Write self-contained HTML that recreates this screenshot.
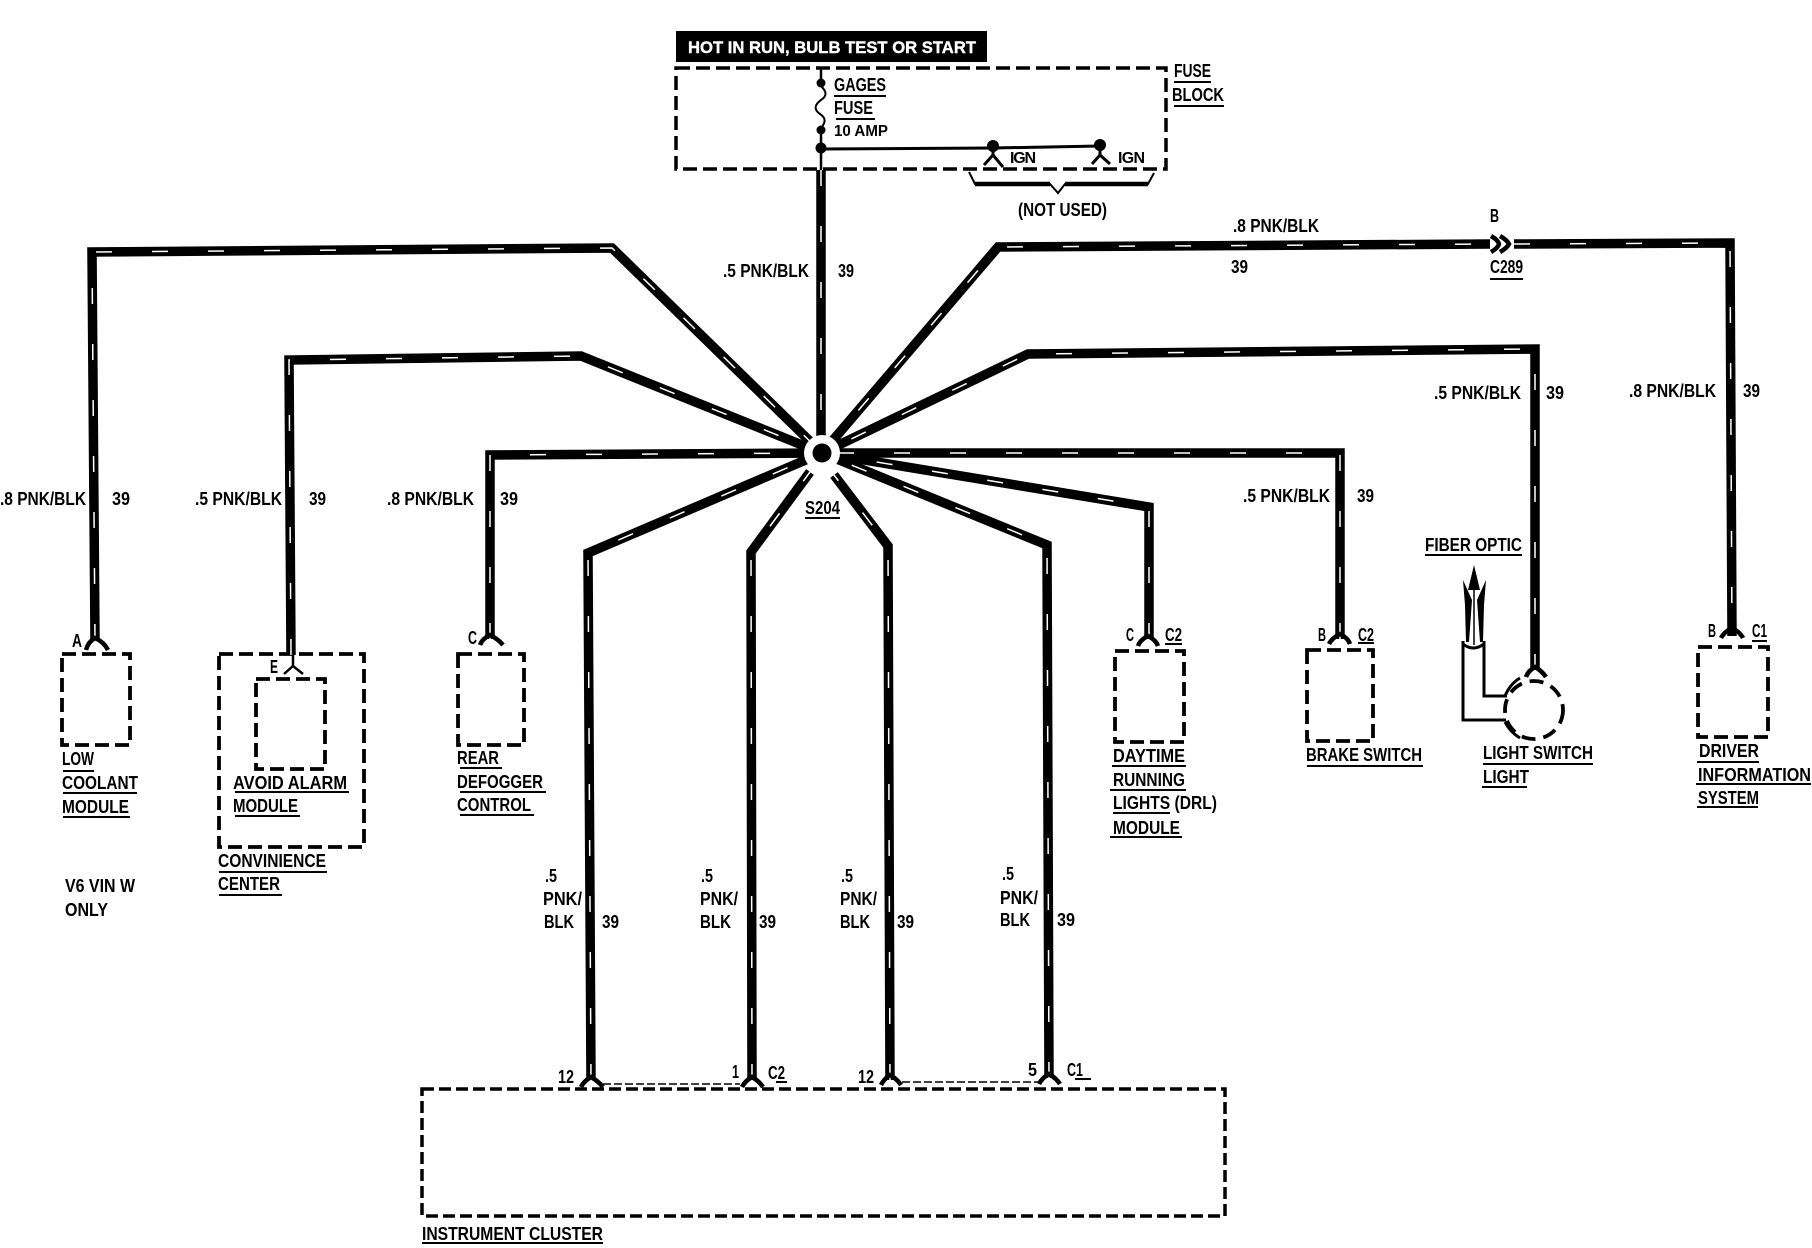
<!DOCTYPE html>
<html>
<head>
<meta charset="utf-8">
<style>
html,body{margin:0;padding:0;background:#fff;width:1812px;height:1248px;overflow:hidden}
svg{display:block}
text{font-family:"Liberation Sans",sans-serif;font-weight:700;font-size:18px;fill:#000}
.s{font-size:16px}
</style>
</head>
<body>
<svg width="1812" height="1248" viewBox="0 0 1812 1248" xmlns="http://www.w3.org/2000/svg">
<defs>
<g id="wires" fill="none">
<path d="M95,640 L92,252 L612,248 L822,453"/>
<path d="M291,655 L289,360 L581,356 L822,453"/>
<path d="M490,639 L490,455 L822,453"/>
<path d="M591,1080 L588,553 L822,453"/>
<path d="M752,1080 L751,552 L810,472"/>
<path d="M890,1080 L888,546 L834,475"/>
<path d="M1049,1078 L1047,545 L822,453"/>
<path d="M1149,639 L1149,507 L822,453"/>
<path d="M1340,639 L1340,453 L822,453"/>
<path d="M1535,670 L1535,349 L1028,354 L822,453"/>
<path d="M822,453 L998,247 L1490,244"/>
<path d="M1514,244 L1730,243 L1732,636"/>
<path d="M821,170 L821,453"/>
</g>
</defs>
<rect width="1812" height="1248" fill="#fff"/>

<!-- header -->
<rect x="676" y="31" width="311" height="31" fill="#000"/>
<text x="688" y="53" textLength="288" lengthAdjust="spacingAndGlyphs" style="fill:#fff;font-size:17px;stroke:#fff;stroke-width:.4">HOT IN RUN, BULB TEST OR START</text>

<!-- dashed boxes -->
<g fill="none" stroke="#000" stroke-width="3.8" stroke-dasharray="14 6">
<rect x="676" y="68" width="490" height="101" stroke-width="3.5"/>
<rect x="62" y="654" width="68" height="91"/>
<rect x="219" y="654" width="145" height="193"/>
<rect x="256" y="679" width="69" height="90"/>
<rect x="458" y="654" width="66" height="91"/>
<rect x="1115" y="651" width="69" height="91"/>
<rect x="1307" y="650" width="66" height="91"/>
<rect x="1698" y="647" width="70" height="90"/>
<rect x="422" y="1089" width="803" height="127" stroke-width="3.5" stroke-dasharray="12 5"/>
<circle cx="1534" cy="710" r="29" stroke-dasharray="14 8"/>
</g>

<!-- wires -->
<use href="#wires" stroke="#000" stroke-width="9.5"/>
<use href="#wires" stroke="#fff" stroke-width="1.5" stroke-dasharray="16 40"/>

<!-- splice -->
<circle cx="822" cy="453" r="18" fill="#fff"/>
<circle cx="822" cy="453" r="9.5" fill="#000"/>

<!-- fuse block internals -->
<path d="M821,68 V83 M821,130 V170" stroke="#000" stroke-width="2.5"/>
<path d="M821,86 C827,92 827,96 821,100 C814,105 814,110 820,114 C826,118 826,122 821,128" fill="none" stroke="#000" stroke-width="2"/>
<g fill="#000">
<circle cx="821" cy="83" r="4.5"/>
<circle cx="821" cy="130" r="4.5"/>
<circle cx="821" cy="148" r="5.5"/>
<circle cx="993" cy="146" r="6"/>
<circle cx="1100" cy="145" r="6"/>
</g>
<g fill="none" stroke="#000" stroke-width="3">
<path d="M821,149 L993,148 L1100,146"/>
<path d="M993,150 V157 M984,165 L993,155 L1003,167"/>
<path d="M1100,150 V156 M1092,164 L1100,155 L1110,164"/>
</g>
<path d="M969,172 L975,184 H1050 L1058,193 L1065,184 H1148 L1154,173" fill="none" stroke="#000" stroke-width="2"/>
<path d="M975,184 H1050 M1065,184 H1148" stroke="#000" stroke-width="4.5"/>

<!-- C289 connector -->
<g fill="none" stroke="#000" stroke-width="4.5">
<path d="M1491,236 Q1498,240 1499,244 Q1498,248 1491,252"/>
<path d="M1500,236 Q1507,240 1509,244 Q1507,248 1500,252"/>
</g>

<!-- wire-end forks -->
<g fill="none" stroke="#000" stroke-width="4.5">
<path d="M86,650 Q88,642 95,638 Q104,642 108,650"/>
<path d="M480,645 Q482,639 490,635 Q498,639 503,645"/>
<path d="M1138,646 Q1140,640 1148,636 Q1156,640 1158,646"/>
<path d="M1329,644 Q1332,638 1340,634 Q1348,638 1350,644"/>
<path d="M1721,638 Q1724,632 1732,628 Q1740,632 1743,638"/>
<path d="M1526,677 Q1528,671 1535,667 Q1542,671 1546,677"/>
<path d="M581,1087 Q584,1081 591,1077 Q598,1081 603,1087"/>
<path d="M742,1087 Q745,1081 752,1077 Q759,1081 763,1087"/>
<path d="M881,1085 Q884,1079 890,1075 Q897,1079 901,1085"/>
<path d="M1039,1084 Q1042,1078 1049,1074 Q1056,1078 1060,1084"/>
</g>
<path d="M293,655 V667 M284,674 L293,666 L303,674" fill="none" stroke="#000" stroke-width="2.5"/>

<!-- thin dashes between cluster pins -->
<path d="M603,1084 H740 M902,1082 H1039" fill="none" stroke="#000" stroke-width="1.5" stroke-dasharray="8 3"/>

<!-- fiber optic -->
<g fill="none" stroke="#000" stroke-width="3">
<path d="M1463,641 V720 H1506"/>
<path d="M1484,641 V696 H1507"/>
<path d="M1463,644 Q1473,652 1484,644"/>
<path d="M1520,678 Q1510,684 1505,696"/>
<path d="M1505,722 Q1510,732 1520,738"/>
</g>
<g fill="#000">
<path d="M1474,565 L1480,590 H1468 Z"/>
<path d="M1463,580 L1472,600 L1469,642 H1466 L1465,605 Z"/>
<path d="M1486,580 L1477,600 L1480,642 H1483 L1484,605 Z"/>
</g>
<path d="M1474,588 V645" stroke="#000" stroke-width="1.5"/>

<!-- underlines -->
<path fill="none" stroke="#000" stroke-width="2" d="M834,96 H886 M836,119 H875 M1174,82 H1211 M1174,106 H1224 M1490,279 H1523 M805,518 H840 M1425,555 H1522 M63,771 H94 M63,793 H137 M63,817 H130 M235,792 H349 M235,816 H300 M219,872 H327 M219,895 H282 M460,768 H502 M460,792 H546 M460,815 H534 M1165,644 H1182 M1358,643 H1374 M1752,641 H1767 M1112,766 H1186 M1110,790 H1186 M1113,813 H1170 M1110,837 H1182 M1307,766 H1423 M1483,764 H1593 M1482,787 H1527 M1697,762 H1759 M1696,784 H1811 M1697,807 H1758 M776,1082 H787 M1075,1079 H1091 M422,1243 H603"/>

<!-- labels -->
<text x="834" y="91" textLength="52" lengthAdjust="spacingAndGlyphs">GAGES</text>
<text x="834" y="114" textLength="39" lengthAdjust="spacingAndGlyphs">FUSE</text>
<text x="834" y="136" textLength="54" lengthAdjust="spacingAndGlyphs" class="s">10 AMP</text>
<text x="1010" y="163" textLength="26" lengthAdjust="spacing" class="s">IGN</text>
<text x="1118" y="163" textLength="27" lengthAdjust="spacing" class="s">IGN</text>
<text x="1174" y="77" textLength="37" lengthAdjust="spacingAndGlyphs">FUSE</text>
<text x="1172" y="101" textLength="52" lengthAdjust="spacingAndGlyphs">BLOCK</text>
<text x="1018" y="216" textLength="89" lengthAdjust="spacingAndGlyphs">(NOT USED)</text>

<text x="723" y="277" textLength="86" lengthAdjust="spacingAndGlyphs">.5 PNK/BLK</text>
<text x="838" y="277" textLength="16" lengthAdjust="spacingAndGlyphs">39</text>
<text x="1233" y="232" textLength="86" lengthAdjust="spacingAndGlyphs">.8 PNK/BLK</text>
<text x="1231" y="273" textLength="17" lengthAdjust="spacingAndGlyphs">39</text>
<text x="1490" y="222" textLength="9" lengthAdjust="spacingAndGlyphs">B</text>
<text x="1490" y="273" textLength="33" lengthAdjust="spacingAndGlyphs">C289</text>
<text x="1434" y="399" textLength="87" lengthAdjust="spacingAndGlyphs">.5 PNK/BLK</text>
<text x="1546" y="399" textLength="18" lengthAdjust="spacingAndGlyphs">39</text>
<text x="1629" y="397" textLength="87" lengthAdjust="spacingAndGlyphs">.8 PNK/BLK</text>
<text x="1743" y="397" textLength="17" lengthAdjust="spacingAndGlyphs">39</text>
<text x="1243" y="502" textLength="87" lengthAdjust="spacingAndGlyphs">.5 PNK/BLK</text>
<text x="1357" y="502" textLength="17" lengthAdjust="spacingAndGlyphs">39</text>
<text x="0" y="505" textLength="86" lengthAdjust="spacingAndGlyphs">.8 PNK/BLK</text>
<text x="112" y="505" textLength="18" lengthAdjust="spacingAndGlyphs">39</text>
<text x="195" y="505" textLength="87" lengthAdjust="spacingAndGlyphs">.5 PNK/BLK</text>
<text x="309" y="505" textLength="17" lengthAdjust="spacingAndGlyphs">39</text>
<text x="387" y="505" textLength="87" lengthAdjust="spacingAndGlyphs">.8 PNK/BLK</text>
<text x="500" y="505" textLength="18" lengthAdjust="spacingAndGlyphs">39</text>
<text x="805" y="514" textLength="35" lengthAdjust="spacingAndGlyphs">S204</text>

<text x="545" y="882" textLength="12" lengthAdjust="spacingAndGlyphs">.5</text>
<text x="543" y="905" textLength="39" lengthAdjust="spacingAndGlyphs">PNK/</text>
<text x="544" y="928" textLength="30" lengthAdjust="spacingAndGlyphs">BLK</text>
<text x="602" y="928" textLength="17" lengthAdjust="spacingAndGlyphs">39</text>
<text x="701" y="882" textLength="12" lengthAdjust="spacingAndGlyphs">.5</text>
<text x="700" y="905" textLength="38" lengthAdjust="spacingAndGlyphs">PNK/</text>
<text x="700" y="928" textLength="31" lengthAdjust="spacingAndGlyphs">BLK</text>
<text x="759" y="928" textLength="17" lengthAdjust="spacingAndGlyphs">39</text>
<text x="841" y="882" textLength="12" lengthAdjust="spacingAndGlyphs">.5</text>
<text x="840" y="905" textLength="37" lengthAdjust="spacingAndGlyphs">PNK/</text>
<text x="840" y="928" textLength="30" lengthAdjust="spacingAndGlyphs">BLK</text>
<text x="897" y="928" textLength="17" lengthAdjust="spacingAndGlyphs">39</text>
<text x="1002" y="880" textLength="12" lengthAdjust="spacingAndGlyphs">.5</text>
<text x="1000" y="904" textLength="38" lengthAdjust="spacingAndGlyphs">PNK/</text>
<text x="1000" y="926" textLength="30" lengthAdjust="spacingAndGlyphs">BLK</text>
<text x="1057" y="926" textLength="18" lengthAdjust="spacingAndGlyphs">39</text>

<text x="72" y="647" textLength="10" lengthAdjust="spacingAndGlyphs">A</text>
<text x="62" y="765" textLength="32" lengthAdjust="spacingAndGlyphs">LOW</text>
<text x="62" y="789" textLength="76" lengthAdjust="spacingAndGlyphs">COOLANT</text>
<text x="62" y="813" textLength="67" lengthAdjust="spacingAndGlyphs">MODULE</text>
<text x="65" y="892" textLength="70" lengthAdjust="spacingAndGlyphs">V6 VIN W</text>
<text x="65" y="916" textLength="43" lengthAdjust="spacingAndGlyphs">ONLY</text>
<text x="270" y="673" textLength="8" lengthAdjust="spacingAndGlyphs">E</text>
<text x="233" y="789" textLength="114" lengthAdjust="spacingAndGlyphs">AVOID ALARM</text>
<text x="233" y="812" textLength="65" lengthAdjust="spacingAndGlyphs">MODULE</text>
<text x="218" y="867" textLength="108" lengthAdjust="spacingAndGlyphs">CONVINIENCE</text>
<text x="218" y="890" textLength="62" lengthAdjust="spacingAndGlyphs">CENTER</text>
<text x="468" y="644" textLength="9" lengthAdjust="spacingAndGlyphs">C</text>
<text x="457" y="764" textLength="42" lengthAdjust="spacingAndGlyphs">REAR</text>
<text x="457" y="788" textLength="86" lengthAdjust="spacingAndGlyphs">DEFOGGER</text>
<text x="457" y="811" textLength="74" lengthAdjust="spacingAndGlyphs">CONTROL</text>
<text x="1126" y="641" textLength="8" lengthAdjust="spacingAndGlyphs">C</text>
<text x="1165" y="641" textLength="17" lengthAdjust="spacingAndGlyphs">C2</text>
<text x="1113" y="762" textLength="72" lengthAdjust="spacingAndGlyphs">DAYTIME</text>
<text x="1113" y="786" textLength="72" lengthAdjust="spacingAndGlyphs">RUNNING</text>
<text x="1113" y="809" textLength="104" lengthAdjust="spacingAndGlyphs">LIGHTS (DRL)</text>
<text x="1113" y="834" textLength="67" lengthAdjust="spacingAndGlyphs">MODULE</text>
<text x="1318" y="641" textLength="8" lengthAdjust="spacingAndGlyphs">B</text>
<text x="1358" y="641" textLength="16" lengthAdjust="spacingAndGlyphs">C2</text>
<text x="1306" y="761" textLength="116" lengthAdjust="spacingAndGlyphs">BRAKE SWITCH</text>
<text x="1425" y="551" textLength="97" lengthAdjust="spacingAndGlyphs">FIBER OPTIC</text>
<text x="1483" y="759" textLength="110" lengthAdjust="spacingAndGlyphs">LIGHT SWITCH</text>
<text x="1483" y="783" textLength="46" lengthAdjust="spacingAndGlyphs">LIGHT</text>
<text x="1708" y="637" textLength="8" lengthAdjust="spacingAndGlyphs">B</text>
<text x="1752" y="637" textLength="15" lengthAdjust="spacingAndGlyphs">C1</text>
<text x="1699" y="757" textLength="60" lengthAdjust="spacingAndGlyphs">DRIVER</text>
<text x="1698" y="781" textLength="113" lengthAdjust="spacingAndGlyphs">INFORMATION</text>
<text x="1698" y="804" textLength="61" lengthAdjust="spacingAndGlyphs">SYSTEM</text>
<text x="558" y="1083" textLength="16" lengthAdjust="spacingAndGlyphs">12</text>
<text x="732" y="1078" textLength="7" lengthAdjust="spacingAndGlyphs">1</text>
<text x="768" y="1079" textLength="17" lengthAdjust="spacingAndGlyphs">C2</text>
<text x="858" y="1083" textLength="16" lengthAdjust="spacingAndGlyphs">12</text>
<text x="1028" y="1076" textLength="9" lengthAdjust="spacingAndGlyphs">5</text>
<text x="1067" y="1076" textLength="16" lengthAdjust="spacingAndGlyphs">C1</text>
<text x="422" y="1240" textLength="181" lengthAdjust="spacingAndGlyphs">INSTRUMENT CLUSTER</text>
</svg>
</body>
</html>
